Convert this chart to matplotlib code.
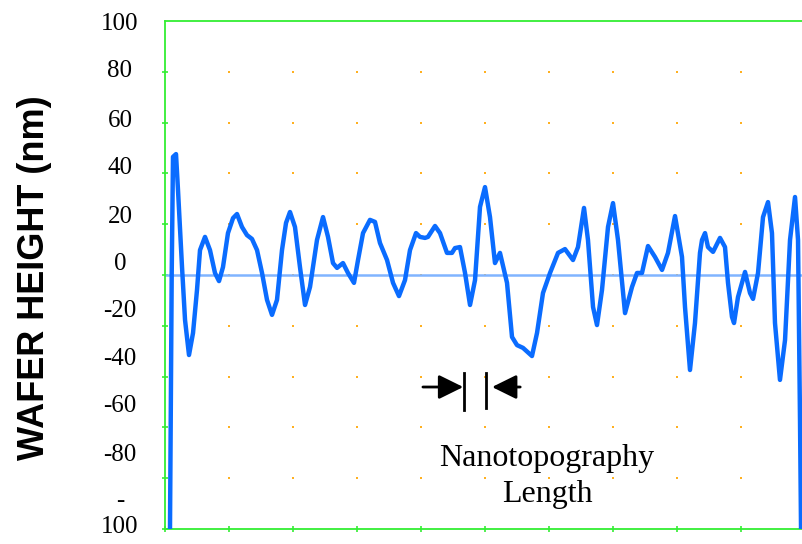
import matplotlib
matplotlib.use("Agg")
import matplotlib.pyplot as plt
import numpy as np

# wafer profile (x in grid units, y in nm)
pos = [0.078, 0.105, 0.125, 0.172, 0.203, 0.266, 0.313, 0.375, 0.438, 0.5,
       0.547, 0.625, 0.703, 0.781, 0.844, 0.906, 0.984, 1.063, 1.125, 1.203,
       1.281, 1.359, 1.438, 1.516, 1.594, 1.672, 1.75, 1.828, 1.891, 1.953,
       2.031, 2.109, 2.188, 2.266, 2.375, 2.469, 2.547, 2.625, 2.688, 2.781,
       2.859, 2.953, 3.016, 3.094, 3.203, 3.281, 3.359, 3.469, 3.563, 3.656,
       3.75, 3.828, 3.922, 3.984, 4.063, 4.109, 4.219, 4.297, 4.406, 4.484,
       4.531, 4.609, 4.688, 4.766, 4.844, 4.922, 5.0, 5.078, 5.156, 5.234,
       5.344, 5.422, 5.5, 5.594, 5.734, 5.813, 5.906, 6.016, 6.141, 6.25,
       6.375, 6.453, 6.547, 6.609, 6.688, 6.75, 6.828, 6.922, 7.0, 7.078,
       7.188, 7.297, 7.375, 7.453, 7.547, 7.656, 7.766, 7.859, 7.969, 8.078,
       8.125, 8.203, 8.281, 8.359, 8.391, 8.438, 8.484, 8.563, 8.672, 8.75,
       8.797, 8.859, 8.891, 8.953, 9.063, 9.141, 9.188, 9.266, 9.344, 9.422,
       9.484, 9.531, 9.609, 9.688, 9.766, 9.844, 9.891, 9.922, 9.938]
height = [-100, 0.8, 46.5, 47.6, 33.5, 3.1, -17.7, -31.5, -22.8, -5.9,
          9.8, 15.0, 9.8, 0.8, -2.4, 3.1, 16.5, 22.4, 24.0, 18.9,
          15.7, 14.2, 9.8, 0.8, -9.8, -15.7, -9.8, 9.8, 20.5, 24.8,
          18.9, 3.1, -11.8, -4.7, 13.8, 22.8, 15.0, 4.7, 2.8, 4.7,
          0.8, -3.1, 5.9, 16.5, 21.7, 20.9, 12.6, 5.9, -3.1, -8.3,
          -2.0, 9.8, 16.5, 15.0, 14.6, 15.0, 19.3, 16.5, 8.7, 8.7,
          10.6, 11.0, 0.8, -11.8, -2.0, 26.8, 34.6, 22.8, 4.7, 8.7,
          -3.1, -24.4, -27.6, -28.7, -31.9, -22.8, -7.1, 0.8, 8.7, 10.2,
          5.9, 11.0, 26.4, 13.8, -12.6, -19.7, -5.9, 18.9, 28.3, 13.8,
          -15.0, -4.7, 0.8, 0.8, 11.4, 7.1, 2.0, 8.7, 23.2, 7.1,
          -12.6, -37.4, -18.9, 8.7, 13.8, 16.5, 11.0, 9.1, 14.6, 11.0,
          -3.1, -16.5, -18.9, -8.7, 1.2, -7.1, -9.4, 0.8, 22.8, 28.7,
          16.5, -18.9, -41.3, -25.6, 13.8, 30.7, 13.8, -57.1, -100]

grid_x = list(range(0, 11))
grid_y = list(range(-100, 101, 20))
# y labels sit a bit off the ticks in the original, with "-100" wrapped
label_pos = [100, 81.3, 61.5, 43.0, 23.9, 5.5, -13.0, -32.1, -50.5, -69.7, -88.1, -98.4]
label_txt = ["100", "80", "60", "40", "20", "0", "-20", "-40", "-60", "-80", "-", "100"]

green = "#33ee33"
serif = "Liberation Serif"

fig = plt.figure(figsize=(8.03, 5.44), dpi=100)
ax = fig.add_axes([165 / 803, 15 / 544, 640 / 803, 508 / 544])
ax.set_xlim(0, 10)
ax.set_ylim(-100, 100)

for s in ["left", "top", "bottom"]:
    ax.spines[s].set_color(green)
    ax.spines[s].set_linewidth(1.3)
ax.spines["right"].set_visible(False)

# orange dots at the grid crossings
gx, gy = np.meshgrid(grid_x[1:-1], grid_y[1:-1])
ax.scatter(gx.ravel(), gy.ravel(), marker="s", s=2, color="#ffb020", lw=0, zorder=1)

ax.axhline(0, color="#80b4ff", lw=1.8, zorder=2)
ax.plot(pos, height, color="#0a6cff", lw=3.2, zorder=3,
        solid_joinstyle="round", solid_capstyle="round")

ax.set_xticks(grid_x)
ax.set_xticklabels([])
ax.tick_params(axis="x", direction="inout", length=5, color=green, width=1.2)

ax.set_yticks(label_pos)
ax.set_yticklabels(label_txt, fontname=serif, fontsize=18, ha="center")
ax.set_yticks(grid_y, minor=True)
ax.tick_params(axis="y", which="major", length=0, pad=32.4)
ax.tick_params(axis="y", which="minor", direction="inout", length=5, color=green, width=1.2)

# nanotopography length marker
y_arr = -44.1
x_l, x_r = 4.67, 5.02
ax.plot([x_l, x_l], [-38.6, -53.1], color="black", lw=2)
ax.plot([x_r, x_r], [-38.6, -52.3], color="black", lw=2)
style = "-|>,head_length=0.75,head_width=0.37"
ax.annotate("", xy=(x_l - 0.01, y_arr), xytext=(4.03, y_arr),
            arrowprops=dict(arrowstyle=style, color="black", lw=2,
                            mutation_scale=20, shrinkA=0, shrinkB=0))
ax.annotate("", xy=(x_r + 0.09, y_arr), xytext=(5.55, y_arr),
            arrowprops=dict(arrowstyle=style, color="black", lw=2,
                            mutation_scale=20, shrinkA=0, shrinkB=0))
ax.text(5.97, -79.3, "Nanotopography\nLength", fontname=serif, fontsize=23,
        ha="center", va="center", linespacing=1.3)

fig.text(35 / 803, 1 - 278 / 544, "WAFER HEIGHT (nm)", rotation=90,
         fontname="Liberation Sans", fontweight="bold", fontsize=26,
         ha="center", va="center")

fig.savefig("out.png", dpi=100)
